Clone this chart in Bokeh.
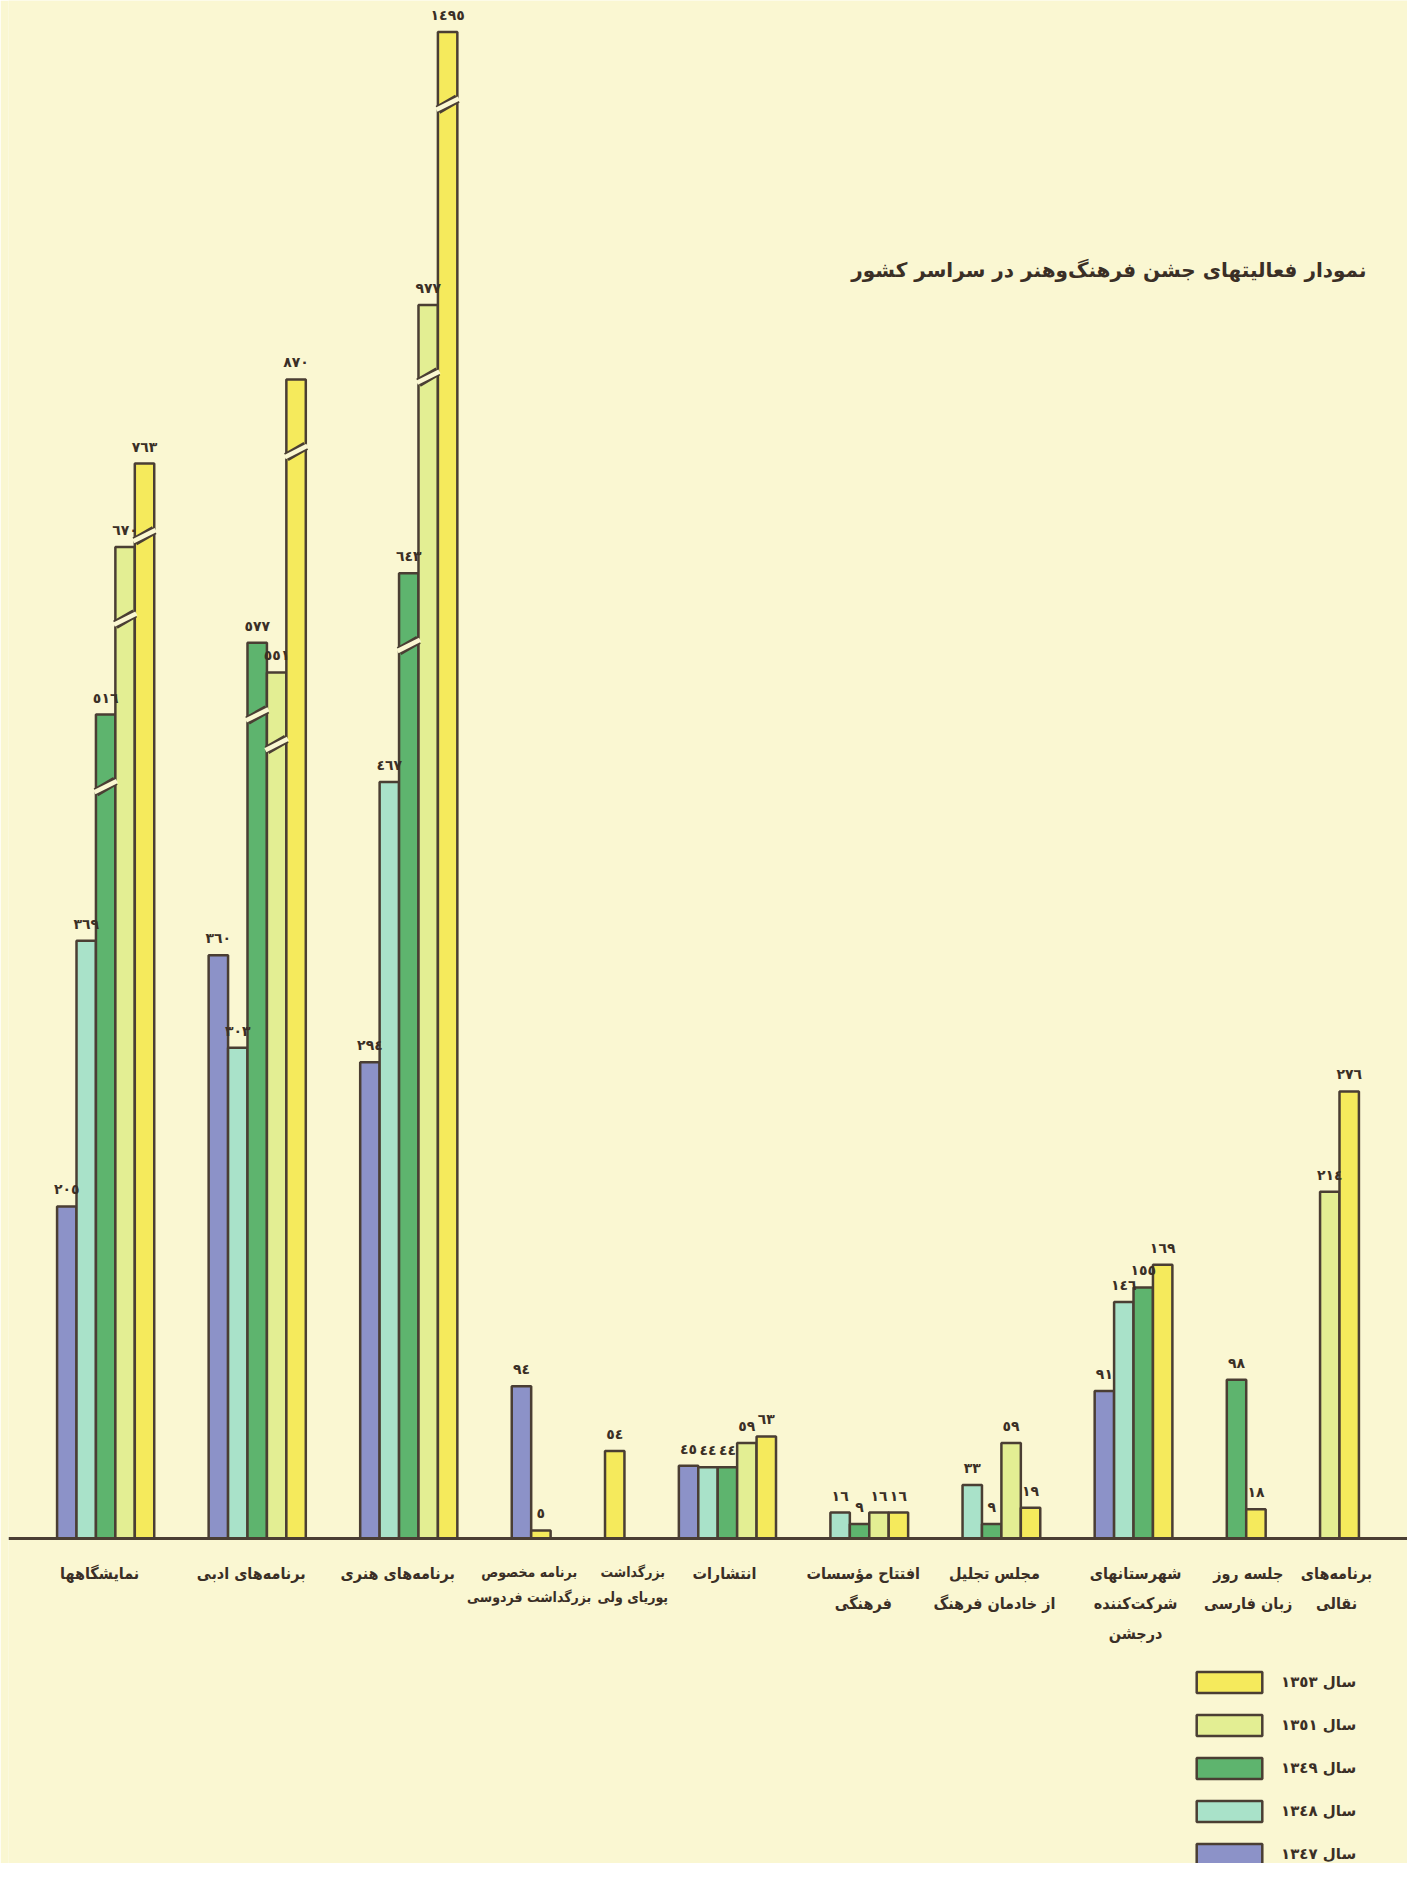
from bokeh.plotting import figure
from bokeh.models import (FactorRange, ColumnDataSource, CustomJSTransform, Span,
                          Legend, LegendItem, Range1d, Label)
from bokeh.transform import transform, dodge
from bokeh.core.properties import value
from bokeh.embed import file_html
from bokeh.resources import INLINE

# ---------------- data ----------------
categories = [
    "نمایشگاهها",
    "برنامه‌های ادبی",
    "برنامه‌های هنری",
    "برنامه مخصوص بزرگداشت فردوسی",
    "بزرگداشت پوریای ولی",
    "انتشارات",
    "افتتاح مؤسسات فرهنگی",
    "مجلس تجلیل از خادمان فرهنگ",
    "شهرستانهای شرکت‌کننده درجشن",
    "جلسه روز زبان فارسی",
    "برنامه‌های نقالی",
]
category_labels = [
    "نمایشگاهها",
    "برنامه‌های ادبی",
    "برنامه‌های هنری",
    "برنامه مخصوص\nبزرگداشت فردوسی",
    "بزرگداشت\nپوریای ولی",
    "انتشارات",
    "افتتاح مؤسسات\nفرهنگی",
    "مجلس تجلیل\nاز خادمان فرهنگ",
    "شهرستانهای\nشرکت‌کننده\nدرجشن",
    "جلسه روز\nزبان فارسی",
    "برنامه‌های\nنقالی",
]
years = ["1347", "1348", "1349", "1351", "1353"]
year_labels = ["سال ١٣٤٧", "سال ١٣٤٨", "سال ١٣٤٩", "سال ١٣٥١", "سال ١٣٥٣"]

v1347 = [205, 360, 294, 94, None, 45, None, None, 91, None, None]
v1348 = [369, 303, 467, None, None, 44, 16, 33, 146, None, None]
v1349 = [516, 577, 643, None, None, 44, 9, 9, 155, 98, None]
v1351 = [670, 551, 977, None, None, 59, 16, 59, None, None, 214]
v1353 = [763, 870, 1495, 5, 54, 63, 16, 19, 169, 18, 276]
series = [v1347, v1348, v1349, v1351, v1353]

# ---------------- style ----------------
BG = "#faf7d2"
OUT = "#4a3e33"
TXT = "#3a2f26"
colors = ["#8c92c8", "#a9e2c9", "#5eb46e", "#e3ee93", "#f5ea5c"]
FONT = value("DejaVu Sans")
label_dx = [-6, -6, -11, -2, 18, -3, -6, -7, 2, 2, -3]   # small horizontal nudges of the category labels (px)
label_fs = ["16px"] * 3 + ["14px", "14px"] + ["16px"] * 6

AR_DIGITS = str.maketrans("0123456789", "٠١٢٣٤٥٦٧٨٩")


def ar(n):
    return str(n).translate(AR_DIGITS)


# broken axis: values above T are compressed (the original draws break marks on them)
T, K = 480.0, 396.0
JS = """
const out = new Float64Array(xs.length);
for (let i = 0; i < xs.length; i++) {
  const v = xs[i];
  out[i] = (v <= T ? v : T + K * Math.log(v / T)) + off;
}
return out;
"""
comp = CustomJSTransform(args=dict(T=T, K=K, off=0.0), v_func=JS)
cut_lo = CustomJSTransform(args=dict(T=T, K=K, off=-48.0), v_func=JS)
cut_hi = CustomJSTransform(args=dict(T=T, K=K, off=-41.0), v_func=JS)

# factors: only the bars that exist, packed together within each group
factors = []
for ci, c in enumerate(categories):
    for yi, yr in enumerate(years):
        if series[yi][ci] is not None:
            factors.append((c, yr))

W, H = 1407, 1863
x_range = FactorRange(factors=factors, group_padding=2.8, factor_padding=0.0,
                      range_padding=2.5, range_padding_units="absolute")
p = figure(width=W, height=H, x_range=x_range, y_range=Range1d(-200.6, 949.4),
           output_backend="svg", toolbar_location=None,
           x_axis_location=None, y_axis_location=None, min_border=0,
           background_fill_color=BG, border_fill_color=BG)
p.min_border_left = 8
p.outline_line_color = None
p.xgrid.visible = False
p.ygrid.visible = False

renderers = []
all_x, all_v, all_lbl = [], [], []
cut_x, cut_v = [], []
for yi, yr in enumerate(years):
    xs, vs = [], []
    for ci, c in enumerate(categories):
        v = series[yi][ci]
        if v is not None:
            xs.append((c, yr))
            vs.append(v)
            all_x.append((c, yr))
            all_v.append(v)
            all_lbl.append(ar(v))
            if v > T:
                cut_x.append((c, yr))
                cut_v.append(v)
    src = ColumnDataSource(dict(x=xs, value=vs))
    r = p.vbar(x="x", top=transform("value", comp), bottom=0, width=1.0, source=src,
               fill_color=colors[yi], line_color=OUT, line_width=2.5)
    renderers.append(r)

# break marks on the compressed bars
cut_src = ColumnDataSource(dict(x=cut_x, value=cut_v))
p.segment(x0=dodge("x", -0.5, range=x_range), x1=dodge("x", 0.5, range=x_range),
          y0=transform("value", cut_lo), y1=transform("value", cut_hi),
          source=cut_src, line_color=OUT, line_width=9, line_cap="butt")
p.segment(x0=dodge("x", -0.58, range=x_range), x1=dodge("x", 0.58, range=x_range),
          y0=transform("value", cut_lo), y1=transform("value", cut_hi),
          source=cut_src, line_color=BG, line_width=4.5, line_cap="butt")

# value labels
lbl_src = ColumnDataSource(dict(x=all_x, value=all_v, label=all_lbl))
p.text(x="x", y=transform("value", comp), text="label", source=lbl_src,
       text_align="center", text_baseline="bottom", y_offset=-9,
       text_font=FONT, text_font_style="bold", text_font_size="14px", text_color=TXT)

# baseline
p.add_layout(Span(location=0, dimension="width", line_color=OUT, line_width=3))

# category labels
cat_src = ColumnDataSource(dict(x=categories, y=[0] * len(categories),
                                label=category_labels, dx=label_dx, fs=label_fs))
p.text(x="x", y="y", text="label", source=cat_src, text_align="center",
       text_baseline="top", x_offset="dx", y_offset=25, text_line_height=1.6,
       text_font=value("DejaVu Sans Condensed"), text_font_style="bold",
       text_font_size="fs", text_color=TXT)

# title
p.add_layout(Label(x=1358, y=H - 269, x_units="screen", y_units="screen",
                   text="نمودار فعالیتهای جشن فرهنگ‌وهنر در سراسر کشور",
                   text_align="right", text_baseline="middle",
                   text_font="DejaVu Sans", text_font_style="bold",
                   text_font_size="20px", text_color=TXT))

# legend (1353 at top)
items = [LegendItem(label=year_labels[i], renderers=[renderers[i]]) for i in range(4, -1, -1)]
legend = Legend(items=items, location=(1180, -4), orientation="vertical",
                glyph_width=82, glyph_height=26, label_height=26, spacing=17,
                label_standoff=11, padding=0, margin=0,
                border_line_color=None, background_fill_alpha=0.0,
                label_text_font="DejaVu Sans", label_text_font_style="bold",
                label_text_font_size="15px", label_text_color=TXT)
p.add_layout(legend)

open("out.html", "w").write(file_html(p, INLINE))
